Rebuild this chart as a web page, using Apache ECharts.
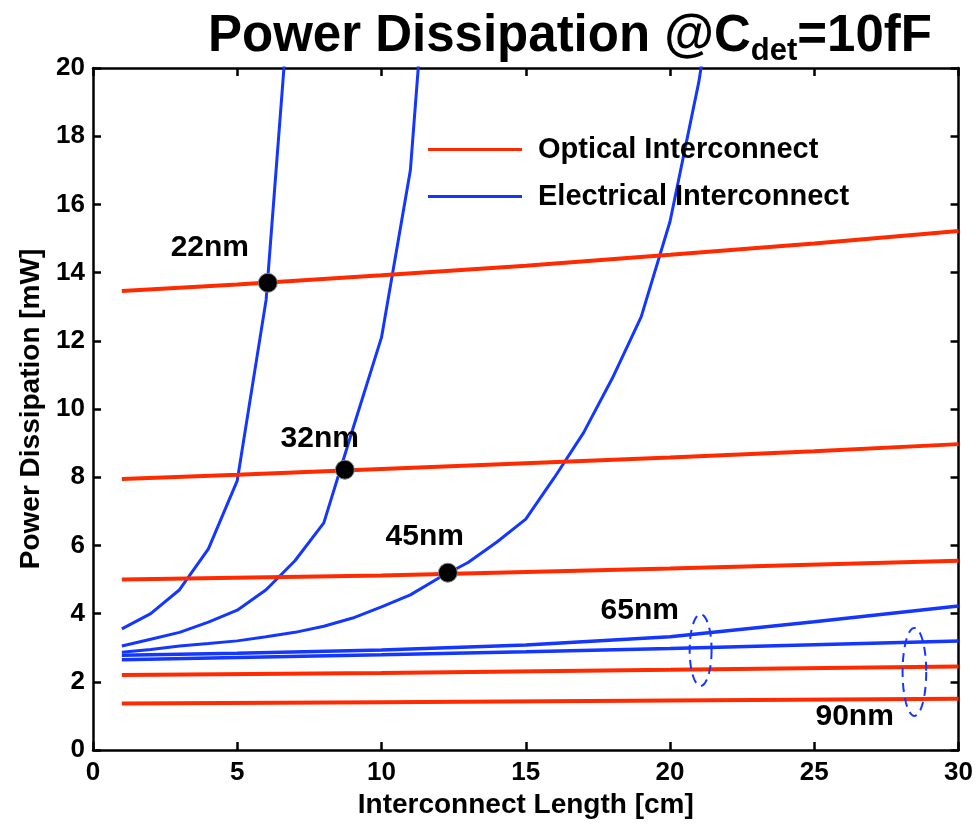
<!DOCTYPE html>
<html>
<head>
<meta charset="utf-8">
<script src="https://cdn.jsdelivr.net/npm/echarts@6/dist/echarts.min.js"></script>
<style>
  html, body { margin: 0; padding: 0; background: #ffffff; }
  #chart { width: 976px; height: 825px; }
</style>
</head>
<body>
<div id="chart"></div>
<script>
// Interconnect length [cm] vs. power dissipation [mW], per technology node
const optical22 = [[1, 13.46], [5, 13.65], [10, 13.92], [15, 14.2], [20, 14.52], [25, 14.85], [30, 15.22]];
const optical32 = [[1, 7.95], [5, 8.07], [10, 8.24], [15, 8.41], [20, 8.58], [25, 8.76], [30, 8.97]];
const optical45 = [[1, 5.0], [10, 5.12], [20, 5.32], [30, 5.55]];
const optical65 = [[1, 2.2], [10, 2.26], [20, 2.35], [30, 2.45]];
const optical90 = [[1, 1.36], [10, 1.4], [20, 1.45], [30, 1.5]];

const electrical22 = [[1, 3.55], [2, 4.0], [3, 4.7], [4, 5.9], [5, 7.9], [6, 13.2], [7, 24.2]];
const electrical32 = [[1, 3.05], [2, 3.25], [3, 3.45], [4, 3.75], [5, 4.1], [6, 4.7], [7, 5.55], [8, 6.66],
                      [9, 9.4], [10, 12.1], [11, 17.0], [12, 28.0]];
const electrical45 = [[1, 2.87], [2, 2.95], [3, 3.05], [4, 3.12], [5, 3.2], [6, 3.32], [7, 3.45], [8, 3.63],
                      [9, 3.87], [10, 4.2], [11, 4.55], [12, 5.05], [13, 5.5], [14, 6.1], [15, 6.77], [16, 8.0],
                      [17, 9.3], [18, 10.9], [19, 12.7], [20, 15.5], [21, 19.6], [22, 25.0]];
const electrical65 = [[1, 2.78], [5, 2.84], [10, 2.93], [15, 3.08], [20, 3.32], [25, 3.76], [30, 4.22]];
const electrical90 = [[1, 2.65], [5, 2.71], [10, 2.79], [15, 2.88], [20, 2.98], [25, 3.09], [30, 3.2]];

// Break-even points where the electrical curve meets the optical one
const crossoverPoints = [[6.06, 13.7], [8.73, 8.22], [12.3, 5.2]];

const techNodes = ['22nm', '32nm', '45nm', '65nm', '90nm'];
const xTicks = { min: 0, max: 30, step: 5 };
const yTicks = { min: 0, max: 20, step: 2 };

// ---- layout / style ----
const FONT = '"Liberation Sans", Arial, Helvetica, sans-serif';
const RED = '#ff2a00';
const BLUE = '#1437ff';
const OPT_NAME = 'Optical Interconnect';
const ELEC_NAME = 'Electrical Interconnect';

// where each node caption sits, in axis units
const nodeLabelAnchors = [[4.05, 14.72], [7.86, 9.12], [11.5, 6.25], [18.95, 4.08], [26.4, 0.97]];
// dashed rings grouping the 65nm / 90nm pairs: centre x, centre y, width, height (axis units)
const groupRings = [[21.06, 2.93, 0.76, 2.1], [28.47, 2.29, 0.82, 2.58]];

const axisLineStyle = { color: '#000', width: 2.5 };
function boxAxis(extra) {
  return Object.assign({
    type: 'value',
    axisLine: { show: true, onZero: false, lineStyle: axisLineStyle },
    axisTick: { show: true, inside: true, length: 8, lineStyle: axisLineStyle },
    splitLine: { show: false },
    axisLabel: { show: false }
  }, extra);
}
const tickLabel = { show: true, color: '#000', fontSize: 26, fontWeight: 'bold', fontFamily: FONT };
const axisName = { color: '#000', fontSize: 28, fontWeight: 'bold', fontFamily: FONT };

function lineSeries(name, data, color, width) {
  return {
    name: name, type: 'line', data: data, symbol: 'none', smooth: false,
    lineStyle: { color: color, width: width }, itemStyle: { color: color },
    emphasis: { disabled: true }, clip: true, z: color === RED ? 3 : 2
  };
}

const chart = echarts.init(document.getElementById('chart'), null, { renderer: 'canvas' });

chart.setOption({
  animation: false,
  backgroundColor: '#ffffff',
  title: {
    text: '{m|Power Dissipation @C}{s|det}{m|=10fF}',
    left: 203, top: 4,
    textStyle: {
      rich: {
        m: { fontSize: 51, fontWeight: 'bold', fontFamily: FONT, color: '#000', lineHeight: 56 },
        s: { fontSize: 31, fontWeight: 'bold', fontFamily: FONT, color: '#000', lineHeight: 30,
             verticalAlign: 'bottom', padding: [0, 0, -2, 0] }
      }
    }
  },
  grid: { left: 93, right: 17, top: 68, bottom: 75, containLabel: false },
  legend: {
    orient: 'vertical', left: 428, top: 135, padding: 0,
    itemWidth: 94, itemHeight: 3, itemGap: 18,
    selectedMode: false,
    textStyle: { color: '#000', fontSize: 29, fontWeight: 'bold', fontFamily: FONT, padding: [0, 0, 0, 11] },
    data: [
      { name: OPT_NAME, icon: 'rect', itemStyle: { color: RED } },
      { name: ELEC_NAME, icon: 'rect', itemStyle: { color: BLUE } }
    ]
  },
  xAxis: [
    boxAxis({
      position: 'bottom', min: xTicks.min, max: xTicks.max, interval: xTicks.step,
      axisLabel: Object.assign({ margin: 10 }, tickLabel),
      name: 'Interconnect Length [cm]', nameLocation: 'middle', nameGap: 40, nameTextStyle: axisName
    }),
    boxAxis({ position: 'top', min: xTicks.min, max: xTicks.max, interval: xTicks.step })
  ],
  yAxis: [
    boxAxis({
      position: 'left', min: yTicks.min, max: yTicks.max, interval: yTicks.step,
      axisLabel: Object.assign({ margin: 8 }, tickLabel),
      name: 'Power Dissipation [mW]', nameLocation: 'middle', nameGap: 48, nameRotate: 90, nameTextStyle: axisName
    }),
    boxAxis({ position: 'right', min: yTicks.min, max: yTicks.max, interval: yTicks.step })
  ],
  series: [
    lineSeries(ELEC_NAME, electrical22, BLUE, 3),
    lineSeries(ELEC_NAME, electrical32, BLUE, 3),
    lineSeries(ELEC_NAME, electrical45, BLUE, 3),
    lineSeries(ELEC_NAME, electrical65, BLUE, 3.5),
    lineSeries(ELEC_NAME, electrical90, BLUE, 3.5),
    lineSeries(OPT_NAME, optical22, RED, 4),
    lineSeries(OPT_NAME, optical32, RED, 4),
    lineSeries(OPT_NAME, optical45, RED, 4),
    lineSeries(OPT_NAME, optical65, RED, 4),
    lineSeries(OPT_NAME, optical90, RED, 4),
    {
      name: 'crossover', type: 'scatter', data: crossoverPoints, symbol: 'circle', symbolSize: 19,
      itemStyle: { color: '#000', opacity: 1, borderColor: '#888', borderWidth: 1 }, z: 5,
      emphasis: { disabled: true }
    },
    {
      name: 'node captions', type: 'scatter', symbolSize: 0, z: 6, silent: true,
      itemStyle: { opacity: 1 },
      data: techNodes.map((n, i) => ({ name: n, value: nodeLabelAnchors[i] })),
      label: {
        show: true, position: 'inside', formatter: '{b}',
        color: '#000', fontSize: 30, fontWeight: 'bold', fontFamily: FONT
      }
    },
    {
      name: 'node groups', type: 'custom', silent: true, z: 4,
      data: groupRings, encode: { x: 0, y: 1 },
      renderItem: function (params, api) {
        const c = api.coord([api.value(0), api.value(1)]);
        const s = api.size([api.value(2), api.value(3)]);
        const rx = s[0] / 2, ry = s[1] / 2;
        const pts = [];
        for (let i = 0; i <= 72; i++) {
          const t = (i / 72) * Math.PI * 2;
          pts.push([c[0] + rx * Math.cos(t), c[1] + ry * Math.sin(t)]);
        }
        return {
          type: 'polyline', shape: { points: pts },
          style: { fill: null, stroke: BLUE, lineWidth: 2, lineDash: [9, 6] }
        };
      }
    }
  ]
});
</script>
</body>
</html>
